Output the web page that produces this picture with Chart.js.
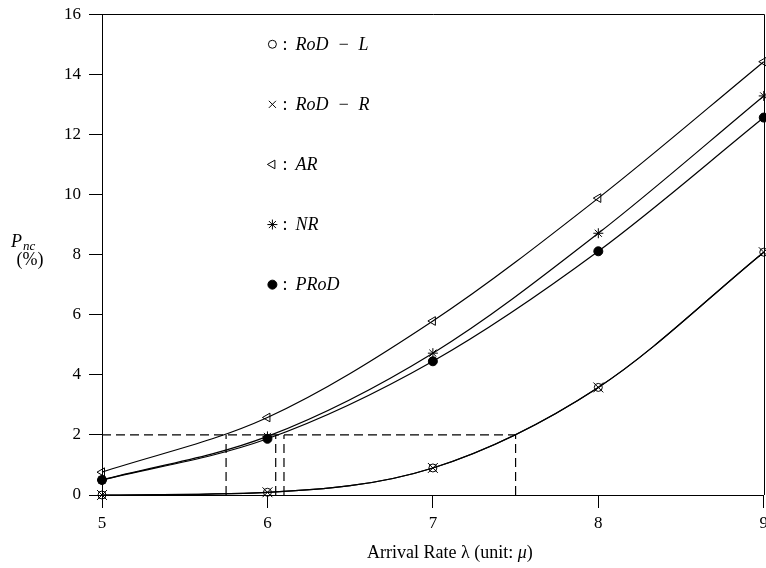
<!DOCTYPE html>
<html><head><meta charset="utf-8">
<script src="https://cdn.jsdelivr.net/npm/chart.js@4.4.0/dist/chart.umd.min.js"></script>
<style>html,body{margin:0;padding:0;background:#fff;overflow:hidden}#wrap{width:773px;height:572px;margin-top:-4px;position:relative}</style>
</head><body><div id="wrap"><canvas id="c"></canvas></div>
<script>
// ---- data ----
const arrivalRates = [5, 6, 7, 8, 9];
const rodL = [0, 0.09, 0.9, 3.58, 8.08];
const rodR = [0, 0.09, 0.9, 3.58, 8.08];
const ar   = [0.76, 2.58, 5.79, 9.88, 14.42];
const nr   = [0.5, 1.95, 4.72, 8.71, 13.28];
const prod = [0.5, 1.87, 4.45, 8.11, 12.56];
const seriesNames = ['RoD\u2002−\u2002L', 'RoD\u2002−\u2002R', 'AR', 'NR', 'PRoD'];
const xTickValues = [5, 6, 7, 8, 9];
const yTickValues = [0, 2, 4, 6, 8, 10, 12, 14, 16];
const threshold = 2;
const crossings = [5.75, 6.05, 6.1, 7.5];
const legendX = 6.03;
const legendY = [15, 13, 11, 9, 7];
const xTitle = ['Arrival Rate λ (unit: ', 'μ', ')'];

const FONT = "'Liberation Serif','DejaVu Serif',serif";
const markerStyles = [
  {pointStyle: 'circle', radius: 4, rotation: 0, fill: false},
  {pointStyle: 'crossRot', radius: 7, rotation: 0, fill: false},
  {pointStyle: 'triangle', radius: 5, rotation: -90, fill: false},
  {pointStyle: 'star', radius: 5, rotation: 0, fill: false},
  {pointStyle: 'circle', radius: 4.5, rotation: 0, fill: true}
];
const seriesValues = [rodL, rodR, ar, nr, prod];

const datasets = seriesValues.map((vals, i) => ({
  label: seriesNames[i],
  data: arrivalRates.map((x, j) => ({x, y: vals[j]})),
  showLine: true,
  borderColor: '#000',
  borderWidth: 1.2,
  cubicInterpolationMode: 'monotone',
  pointStyle: markerStyles[i].pointStyle,
  pointRotation: markerStyles[i].rotation,
  pointRadius: markerStyles[i].radius,
  pointBorderWidth: 1,
  pointBorderColor: '#000',
  pointBackgroundColor: markerStyles[i].fill ? '#000' : 'rgba(0,0,0,0)',
  clip: false
}));
const dashBase = {showLine: true, borderColor: '#000', borderWidth: 1.2, borderDash: [9, 5], pointRadius: 0, tension: 0, clip: false};
datasets.push(Object.assign({label: 'h', data: [{x: arrivalRates[0], y: threshold}, {x: Math.max(...crossings), y: threshold}]}, dashBase));
crossings.forEach(c => datasets.push(Object.assign({label: 'v' + c, data: [{x: c, y: 0}, {x: c, y: threshold}]}, dashBase)));

const annot = {
  id: 'annot',
  afterDraw(chart) {
    const {ctx, chartArea: a, scales: {x, y}} = chart;
    ctx.save();
    ctx.strokeStyle = '#000'; ctx.lineWidth = 1;
    const t = Math.round(a.top) + 0.5, r = Math.round(a.right) + 0.5;
    ctx.beginPath(); ctx.moveTo(a.left, t); ctx.lineTo(r, t); ctx.lineTo(r, a.bottom); ctx.stroke();
    // legend
    ctx.textBaseline = 'middle';
    seriesNames.forEach((name, i) => {
      const px = x.getPixelForValue(legendX), py = y.getPixelForValue(legendY[i]);
      const m = markerStyles[i];
      ctx.fillStyle = m.fill ? '#000' : 'rgba(0,0,0,0)';
      ctx.strokeStyle = '#000'; ctx.lineWidth = 1;
      Chart.helpers.drawPoint(ctx, {pointStyle: m.pointStyle, rotation: m.rotation, radius: i === 1 ? 5 : m.radius, borderWidth: 1}, px, py);
      ctx.fillStyle = '#000';
      ctx.font = '18px ' + FONT;
      ctx.fillText(':', px + 10, py + 1);
      ctx.font = 'italic 18px ' + FONT;
      ctx.fillText(name, px + 23, py + 1);
    });
    // y axis label (anchored to the value-8 tick row)
    const y8 = y.getPixelForValue(8);
    ctx.textBaseline = 'alphabetic';
    ctx.font = 'italic 18px ' + FONT;
    ctx.fillText('P', 11, y8 - 8);
    ctx.font = 'italic 13px ' + FONT;
    ctx.fillText('nc', 23, y8 - 5);
    ctx.font = '18px ' + FONT;
    ctx.textAlign = 'center';
    ctx.fillText('(%)', 30, y8 + 10);
    // x axis title
    ctx.textAlign = 'left';
    ctx.textBaseline = 'middle';
    const fonts = ['18px ' + FONT, 'italic 18px ' + FONT, '18px ' + FONT];
    let total = 0;
    xTitle.forEach((s, k) => { ctx.font = fonts[k]; total += ctx.measureText(s).width; });
    let cx = (a.left + a.right) / 2 + 17 - total / 2;
    const ty = a.bottom + 58;
    xTitle.forEach((s, k) => { ctx.font = fonts[k]; ctx.fillText(s, cx, ty); cx += ctx.measureText(s).width; });
    ctx.restore();
  }
};

new Chart(document.getElementById('c'), {
  type: 'scatter',
  data: {datasets},
  plugins: [annot],
  options: {
    responsive: true, maintainAspectRatio: false, animation: false, devicePixelRatio: 1,
    layout: {padding: {top: 9, right: 3, left: 0, bottom: 0}},
    plugins: {legend: {display: false}, tooltip: {enabled: false}},
    scales: {
      x: {
        type: 'linear', min: 5, max: 9,
        afterBuildTicks: s => { s.ticks = xTickValues.map(v => ({value: v})); },
        afterFit: s => { s.height = 73; },
        ticks: {color: '#000', font: {family: FONT, size: 17}, padding: 5},
        grid: {display: true, drawOnChartArea: false, drawTicks: true, tickLength: 13, color: '#000', lineWidth: 1},
        border: {display: true, color: '#000', width: 1},
        title: {display: false}
      },
      y: {
        min: 0, max: 16,
        afterBuildTicks: s => { s.ticks = yTickValues.map(v => ({value: v})); },
        afterFit: s => { s.width = 102; },
        ticks: {color: '#000', font: {family: FONT, size: 17}, padding: 8},
        grid: {display: true, drawOnChartArea: false, drawTicks: true, tickLength: 13, color: '#000', lineWidth: 1},
        border: {display: true, color: '#000', width: 1}
      }
    }
  }
});
</script>
</body></html>
